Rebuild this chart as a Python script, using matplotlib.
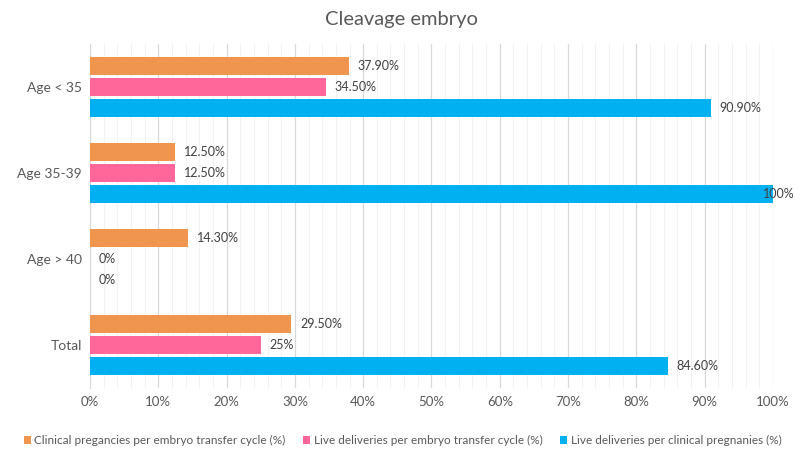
import numpy as np
import matplotlib.pyplot as plt

plt.rcParams['font.family'] = ['Lato', 'DejaVu Sans']

categories = ["Age < 35", "Age 35-39", "Age > 40", "Total"]
series_names = ["Clinical pregancies per embryo transfer cycle (%)",
                "Live deliveries per embryo transfer cycle (%)",
                "Live deliveries per clinical pregnanies (%)"]
clinical = [37.9, 12.5, 14.3, 29.5]
live_per_transfer = [34.5, 12.5, 0, 25]
live_per_preg = [90.9, 100, 0, 84.6]
labels = [["37.90%", "12.50%", "14.30%", "29.50%"],
          ["34.50%", "12.50%", "0%", "25%"],
          ["90.90%", "100%", "0%", "84.60%"]]
colors = ["#F0954F", "#FF6699", "#00B0F0"]
text_col = "#595959"

fig = plt.figure(figsize=(8.02, 4.57), dpi=100)
ax = fig.add_axes([0.1122, 0.151, 0.8516, 0.753])

y = np.arange(len(categories))
h = 0.21
off = 0.245
for i, vals in enumerate([clinical, live_per_transfer, live_per_preg]):
    pos = y + (i - 1) * off
    ax.barh(pos, vals, height=h, color=colors[i], label=series_names[i], zorder=3)
    for p, v, t in zip(pos, vals, labels[i]):
        ax.text(min(v + 1.3, 98.6), p, t, va='center', ha='left',
                fontsize=9, color="#404040", zorder=4)

ax.set_xlim(0, 100)
ax.set_ylim(3.5, -0.5)
ax.set_yticks(y)
ax.set_yticklabels(categories, fontsize=10, color=text_col)
ax.set_xticks(np.arange(0, 101, 10))
ax.set_xticklabels([f"{v}%" for v in range(0, 101, 10)], fontsize=9.5, color=text_col)
ax.set_xticks(np.arange(0, 101, 2), minor=True)
ax.grid(axis='x', which='major', color='#D9D9D9', linewidth=0.9, zorder=0)
ax.grid(axis='x', which='minor', color='#F2F2F2', linewidth=0.8, zorder=0)
ax.tick_params(axis='both', which='both', length=0, pad=6)
for s in ax.spines.values():
    s.set_visible(False)
ax.spines['left'].set_visible(True)
ax.spines['left'].set_color('#D9D9D9')

fig.suptitle("Cleavage embryo", y=0.975, fontsize=14.5, color=text_col)
fig.legend(loc='lower center', ncol=3, frameon=False, fontsize=8.5,
           bbox_to_anchor=(0.502, 0.0), handlelength=0.6, handleheight=0.6,
           handletextpad=0.3, columnspacing=1.5, labelcolor=text_col)

plt.savefig("out.png", dpi=100)
